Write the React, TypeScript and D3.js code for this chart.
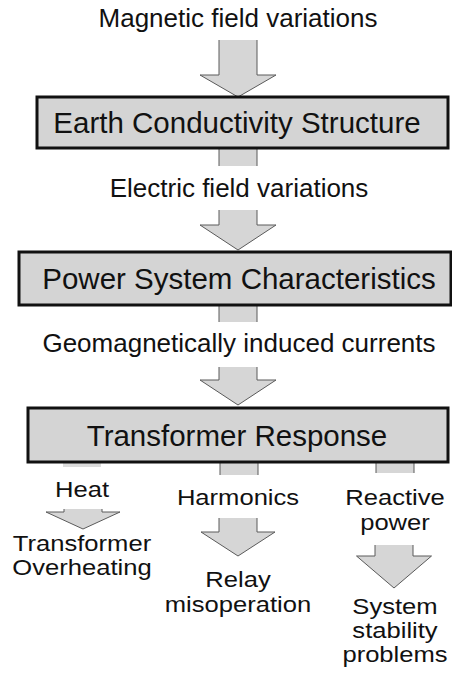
import React from "react";
import * as d3 from "d3";

// ---- content ----
const stageLabels = [
  "Magnetic field variations",
  "Electric field variations",
  "Geomagnetically induced currents",
];
const boxLabels = [
  "Earth Conductivity Structure",
  "Power System Characteristics",
  "Transformer Response",
];
const effectLabels = [["Heat"], ["Harmonics"], ["Reactive", "power"]];
const outcomeLabels = [
  ["Transformer", "Overheating"],
  ["Relay", "misoperation"],
  ["System", "stability", "problems"],
];

// ---- layout ----
const W = 452;
const H = 677;
const CX = 238;
const FONT = "'Liberation Sans', Arial, Helvetica, sans-serif";
const FILL = "#d6d6d6";
const ARROW_STROKE = "#5a5a5a";

const stageBaselines = [27, 197, 352];
const boxes = [
  { x0: 37, x1: 448, y0: 97, y1: 148, tx: 237 },
  { x0: 19, x1: 451, y0: 252, y1: 305, tx: 239 },
  { x0: 28, x1: 448, y0: 408, y1: 462, tx: 237 },
];
const boxFont = 29.5;

// main-column arrows: shaft top, head base, tip
const mainArrows = [
  { cx: CX, top: 40, base: 75, tip: 97, sw: 38, hw: 76 },
  { cx: CX, top: 210, base: 225, tip: 250, sw: 38, hw: 76 },
  { cx: CX, top: 367, base: 380, tip: 405, sw: 38, hw: 76 },
];
const stubs = [
  { cx: CX, y0: 148, y1: 166, light: false },
  { cx: CX, y0: 305, y1: 322, light: false },
  { cx: 82, y0: 462, y1: 467, light: true },
  { cx: 239, y0: 462, y1: 475, light: false },
  { cx: 395, y0: 462, y1: 473, light: false },
];
const branchX = [82, 238, 395];
const branchArrows = [
  { cx: 83, top: 509, base: 512, tip: 529, sw: 38, hw: 74 },
  { cx: 238, top: 518, base: 532, tip: 556, sw: 38, hw: 74 },
  { cx: 394, top: 545, base: 556, tip: 588, sw: 38, hw: 75 },
];
const effectBaselines = [[497], [505], [505, 530]];
const outcomeBaselines = [
  [551, 575],
  [587, 612],
  [614, 638, 662],
];
const lineFont = 21.5;
const lineStretch = 1.19;

type Arrow = { cx: number; top: number; base: number; tip: number; sw: number; hw: number };

const line = d3.line<[number, number]>();

function arrowFill(a: Arrow) {
  const s = a.sw / 2;
  const h = a.hw / 2;
  return (
    line([
      [a.cx - s, a.top],
      [a.cx + s, a.top],
      [a.cx + s, a.base],
      [a.cx + h, a.base],
      [a.cx, a.tip],
      [a.cx - h, a.base],
      [a.cx - s, a.base],
    ]) + "Z"
  );
}
function arrowOutline(a: Arrow) {
  const s = a.sw / 2;
  const h = a.hw / 2;
  return line([
    [a.cx - s, a.top],
    [a.cx - s, a.base],
    [a.cx - h, a.base],
    [a.cx, a.tip],
    [a.cx + h, a.base],
    [a.cx + s, a.base],
    [a.cx + s, a.top],
  ]) as string;
}

function ArrowShape({ a }: { a: Arrow }) {
  return (
    <g>
      <path d={arrowFill(a)} fill={FILL} stroke="none" />
      <path d={arrowOutline(a)} fill="none" stroke={ARROW_STROKE} strokeWidth={1} strokeLinejoin="miter" />
    </g>
  );
}

function StretchText({ x, y, t }: { x: number; y: number; t: string }) {
  return (
    <g transform={`translate(${x},${y}) scale(${lineStretch},1)`}>
      <text x={0} y={0} textAnchor="middle" fontSize={lineFont} fill="#111">
        {t}
      </text>
    </g>
  );
}

export default function App() {
  return (
    <svg
      width={W}
      height={H}
      viewBox={`0 0 ${W} ${H}`}
      style={{ position: "absolute", left: 0, top: 0, background: "#fff" }}
      fontFamily={FONT}
    >
      <rect x={0} y={0} width={W} height={H} fill="#fff" />

      {stubs.map((s, i) => (
        <g key={"stub" + i}>
          <rect x={s.cx - 19} y={s.y0} width={38} height={s.y1 - s.y0} fill={s.light ? "#dcdcdc" : FILL} />
          {!s.light && (
            <path
              d={line([[s.cx - 19, s.y0], [s.cx - 19, s.y1]]) + (line([[s.cx + 19, s.y0], [s.cx + 19, s.y1]]) as string)}
              stroke={ARROW_STROKE}
              strokeWidth={1}
              fill="none"
            />
          )}
        </g>
      ))}

      {mainArrows.map((a, i) => (
        <ArrowShape key={"ma" + i} a={a} />
      ))}
      {branchArrows.map((a, i) => (
        <ArrowShape key={"ba" + i} a={a} />
      ))}

      {boxes.map((b, i) => (
        <g key={"box" + i}>
          <rect
            x={b.x0}
            y={b.y0}
            width={b.x1 - b.x0}
            height={b.y1 - b.y0}
            fill="#d4d4d4"
            stroke="#111"
            strokeWidth={3}
          />
          <text
            x={b.tx}
            y={(b.y0 + b.y1) / 2 + boxFont * 0.36}
            textAnchor="middle"
            fontSize={boxFont}
            fill="#111"
          >
            {boxLabels[i]}
          </text>
        </g>
      ))}

      {stageLabels.map((t, i) => (
        <text key={"st" + i} x={CX + (i === 0 ? 0 : 1)} y={stageBaselines[i]} textAnchor="middle" fontSize={26} fill="#111">
          {t}
        </text>
      ))}

      {effectLabels.map((lines, i) =>
        lines.map((t, j) => (
          <StretchText key={"ef" + i + "-" + j} x={branchX[i]} y={effectBaselines[i][j]} t={t} />
        ))
      )}

      {outcomeLabels.map((lines, i) =>
        lines.map((t, j) => (
          <StretchText key={"oc" + i + "-" + j} x={branchX[i]} y={outcomeBaselines[i][j]} t={t} />
        ))
      )}
    </svg>
  );
}
